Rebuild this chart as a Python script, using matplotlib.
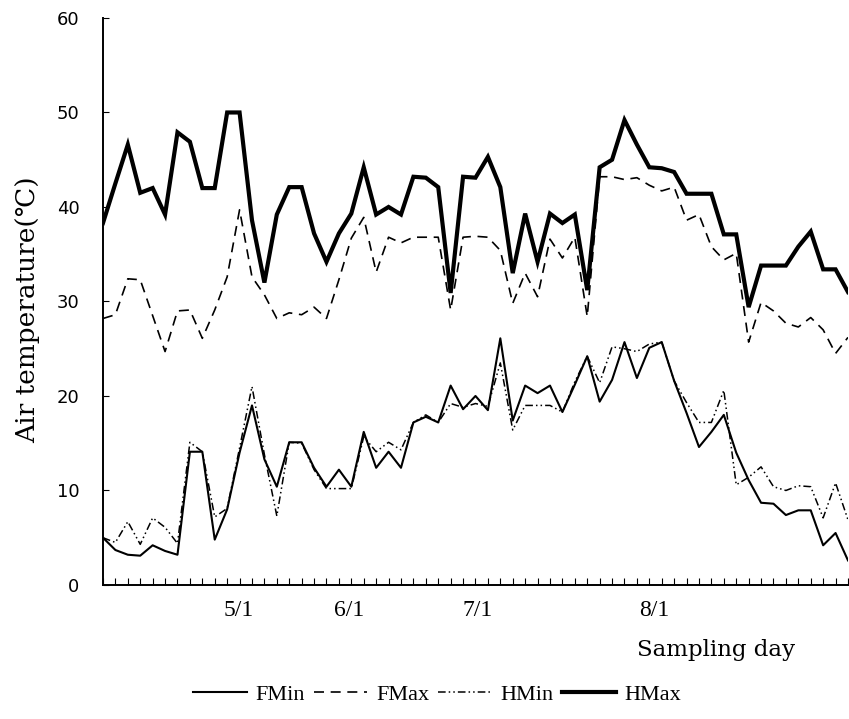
import numpy as np
import matplotlib
matplotlib.use("Agg")
import matplotlib.pyplot as plt
from matplotlib.lines import Line2D

# sampling days (index along the season)
days = np.arange(61)

hmax = [38.3, 42.5, 46.6, 41.5, 42.0, 39.2, 47.9, 46.9, 42.0, 42.0,
        50.0, 50.0, 38.6, 32.0, 39.2, 42.1, 42.1, 37.2, 34.2, 37.2,
        39.3, 44.2, 39.2, 40.0, 39.2, 43.2, 43.1, 42.1, 30.9, 43.2,
        43.1, 45.3, 42.1, 33.0, 39.3, 34.2, 39.3, 38.3, 39.2, 31.2,
        44.2, 45.0, 49.2, 46.6, 44.2, 44.1, 43.7, 41.4, 41.4, 41.4,
        37.1, 37.1, 29.4, 33.8, 33.8, 33.8, 35.8, 37.4, 33.4, 33.4, 31.0]

fmax = [28.2, 28.6, 32.4, 32.3, 28.5, 24.7, 29.0, 29.1, 26.1, 29.1,
        32.6, 39.7, 32.6, 30.7, 28.2, 28.8, 28.6, 29.4, 28.2, 32.3,
        36.7, 38.9, 33.1, 36.8, 36.2, 36.8, 36.8, 36.8, 29.1, 36.8,
        36.9, 36.8, 35.4, 29.8, 33.0, 30.5, 36.6, 34.6, 36.8, 28.4,
        43.2, 43.2, 42.9, 43.1, 42.3, 41.7, 42.1, 38.6, 39.2, 35.8,
        34.4, 35.1, 25.7, 29.9, 29.0, 27.7, 27.3, 28.3, 27.0, 24.5, 26.2]

fmin = [5.0, 3.7, 3.2, 3.1, 4.2, 3.6, 3.2, 14.1, 14.1, 4.8,
        8.0, 14.0, 19.0, 13.3, 10.4, 15.1, 15.1, 12.4, 10.4, 12.2,
        10.4, 16.2, 12.4, 14.1, 12.4, 17.2, 17.8, 17.2, 21.1, 18.6,
        20.0, 18.5, 26.1, 17.4, 21.1, 20.3, 21.1, 18.3, 21.2, 24.2,
        19.4, 21.7, 25.7, 21.9, 25.1, 25.7, 21.6, 18.2, 14.6, 16.2,
        18.0, 14.0, 11.1, 8.7, 8.6, 7.4, 7.9, 7.9, 4.2, 5.5, 2.6]

hmin = [5.0, 4.5, 6.7, 4.3, 7.1, 6.1, 4.4, 15.1, 14.1, 7.2,
        8.1, 14.5, 21.0, 13.8, 7.3, 15.1, 15.0, 12.2, 10.2, 10.2,
        10.2, 15.7, 14.1, 15.1, 14.3, 17.2, 18.0, 17.2, 19.2, 18.8,
        19.2, 18.9, 23.5, 16.4, 19.0, 19.0, 19.0, 18.3, 21.5, 24.2,
        21.4, 25.2, 25.0, 24.7, 25.5, 25.7, 21.6, 19.3, 17.2, 17.2,
        20.6, 10.6, 11.4, 12.5, 10.4, 10.0, 10.5, 10.4, 7.1, 10.8, 6.9]

date_pos = [10.9, 19.8, 30.2, 44.4]
date_labels = ["5/1", "6/1", "7/1", "8/1"]

serif = ["Liberation Serif", "DejaVu Serif"]
wide_serif = ["DejaVu Serif"]

fig = plt.figure(figsize=(8.49, 7.19), dpi=100)
ax = fig.add_axes([0.1213, 0.1864, 0.8775, 0.7886])

styles = {
    "FMin": dict(color="black", lw=1.5, ls="-"),
    "FMax": dict(color="black", lw=1.2, ls=(0, (6, 4))),
    "HMin": dict(color="black", lw=1.1, ls=(0, (5, 2, 1, 2, 1, 2))),
    "HMax": dict(color="black", lw=3.0, ls="-"),
}

ax.plot(days, fmax, **styles["FMax"])
ax.plot(days, hmin, **styles["HMin"])
ax.plot(days, fmin, **styles["FMin"])
ax.plot(days, hmax, **styles["HMax"], solid_joinstyle="miter")

ax.set_xlim(0, 60)
ax.set_ylim(0, 60)
ax.spines["top"].set_visible(False)
ax.spines["right"].set_visible(False)
ax.spines["left"].set_linewidth(1.4)
ax.spines["bottom"].set_linewidth(1.4)

ax.set_yticks(np.arange(0, 61, 10))
ax.tick_params(axis="y", direction="in", length=4, pad=17, labelsize=13)
for lab in ax.get_yticklabels():
    lab.set_fontfamily("DejaVu Sans")

ax.set_xticks(days)
ax.set_xticklabels([])
ax.tick_params(axis="x", which="major", direction="in", length=5)
ax.set_xticks(date_pos, minor=True)
ax.set_xticklabels(date_labels, minor=True, fontsize=17, family=serif)
ax.tick_params(axis="x", which="minor", length=0, pad=11)

ax.set_ylabel("Air temperature(℃)", fontsize=19, family=wide_serif)
ax.yaxis.set_label_coords(-0.085, 0.485)
ax.text(0.823, -0.115, "Sampling day", transform=ax.transAxes,
        ha="center", va="center", fontsize=16.5, family=wide_serif)

handles = [Line2D([], [], **styles[k]) for k in ["FMin", "FMax", "HMin", "HMax"]]
fig.legend(handles, ["FMin", "FMax", "HMin", "HMax"], loc="center",
           bbox_to_anchor=(0.515, 0.034), ncol=4, frameon=False,
           prop={"family": serif, "size": 16}, handlelength=2.4,
           handletextpad=0.4, columnspacing=0.4)

fig.savefig("out.png", dpi=100)
